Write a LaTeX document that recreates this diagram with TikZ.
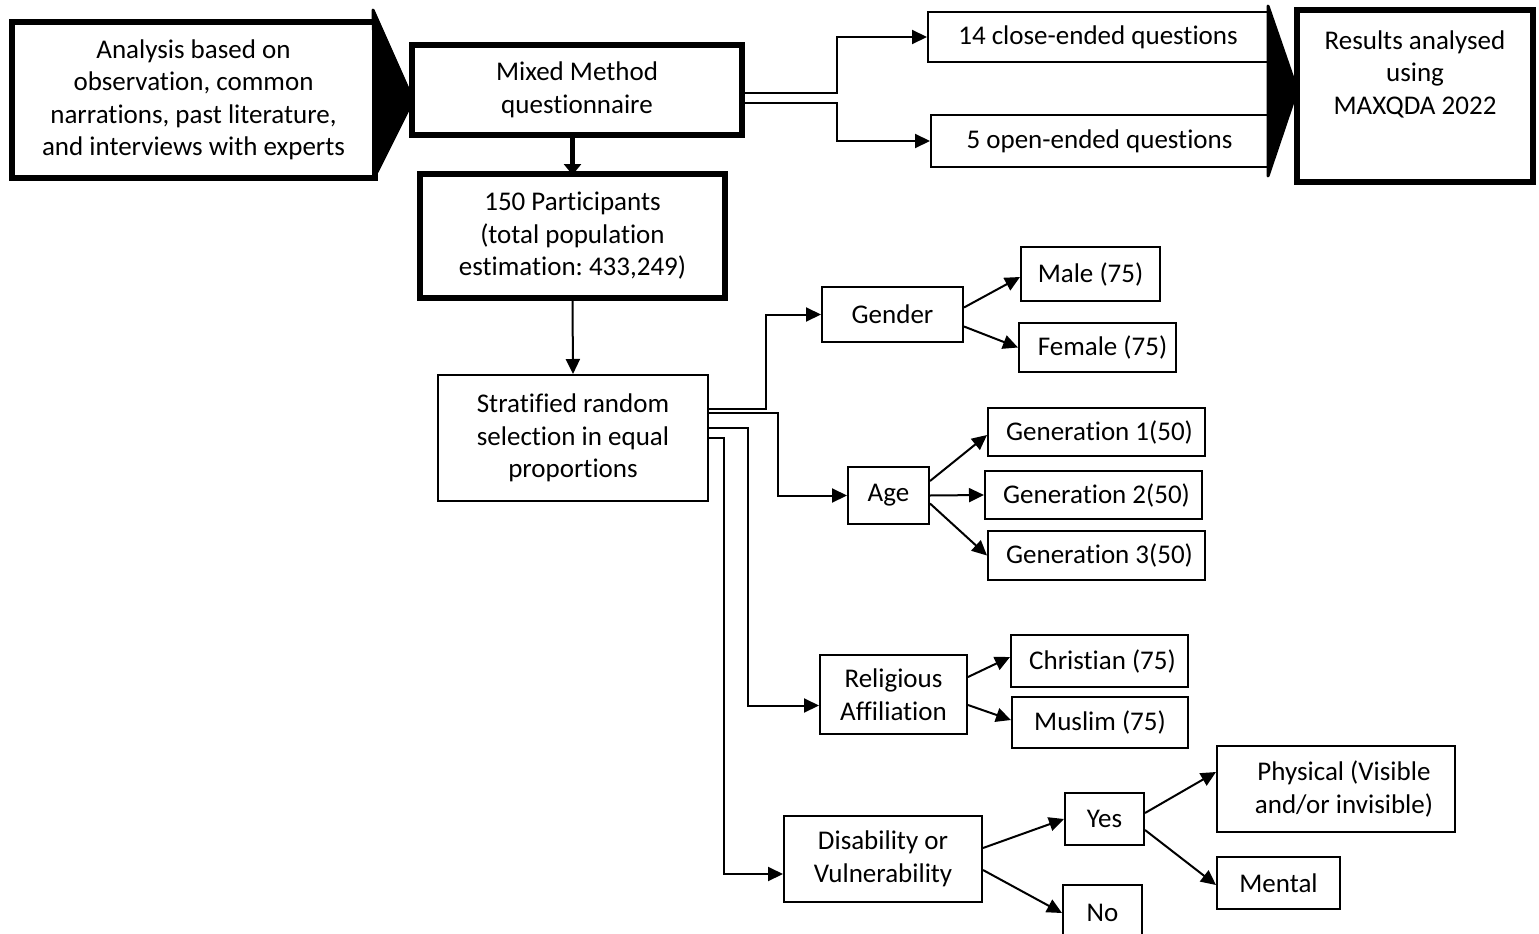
\documentclass[tikz,border=0pt]{standalone}
\usepackage{fontspec}
\setmainfont{Carlito}[Ligatures={CommonOff,ContextualOff}]
\usetikzlibrary{arrows.meta,calc}
\newcommand\myfs{\fontsize{27}{32.5}\selectfont\frenchspacing}
\tikzset{
  bx/.style={draw, line width=2pt, inner sep=0pt, align=center, font=\myfs},
  tbx/.style={bx, line width=6pt},
  txt/.style={inner sep=0pt, align=center, font=\myfs},
  arr/.style={line width=2pt, -{Triangle[length=15pt,width=14pt]}},
  bigarr/.style={line width=4.5pt, -{Triangle[length=11pt,width=17pt]}},
  bigtri/.style={draw, fill=black, line width=3pt, line join=round},
}
\begin{document}
\begin{tikzpicture}[x=1pt,y=-1pt]
\fill[white] (0,0) rectangle (1539,934);
\useasboundingbox (0,0) rectangle (1539,934);

% top row
\node[tbx, minimum width=363pt, minimum height=156pt] (ana) at (193.5,100)
  {Analysis based on\\observation, common\\narrations, past literature,\\and interviews with experts};
\draw[bigtri] (373,10) -- (413,100) -- (377,172) -- cycle;
\node[tbx, minimum width=330pt, minimum height=90pt] (mix) at (577,90)
  {Mixed Method\\questionnaire};
\node[bx, minimum width=340pt, minimum height=50pt] (close) at (1098,37)
  {14 close-ended questions};
\node[bx, minimum width=337pt, minimum height=52pt] (open) at (1099.5,141)
  {5 open-ended questions};
\draw[bigtri] (1268,6) -- (1297,90) -- (1268,176) -- cycle;
\node[tbx, minimum width=236pt, minimum height=172pt] (res) at (1415,96) {};
\node[txt] (restxt) at (1415,74) {Results analysed\\using\\MAXQDA 2022};

% participants
\node[tbx, minimum width=305pt, minimum height=124pt] (part) at (572.5,236)
  {150 Participants\\(total population\\estimation: 433,249)};
\node[bx, minimum width=270pt, minimum height=126pt] (strat) at (573,438)
  {Stratified random\\selection in equal\\proportions};

% categories
\node[bx, minimum width=141pt, minimum height=55pt] (gender) at (892.5,314.5) {Gender};
\node[bx, minimum width=139pt, minimum height=54pt] (male) at (1090.5,274) {Male (75)};
\node[bx, minimum width=157pt, minimum height=49pt] (female) at (1097.5,347.5) {\hspace*{10pt}Female (75)};

\node[bx, minimum width=81pt, minimum height=57pt] (age) at (888.5,495.5) {Age};
\node[bx, minimum width=217pt, minimum height=48pt] (gen1) at (1096.5,432) {\hspace*{6pt}Generation 1(50)};
\node[bx, minimum width=217pt, minimum height=48pt] (gen2) at (1093.5,495) {\hspace*{6pt}Generation 2(50)};
\node[bx, minimum width=217pt, minimum height=49pt] (gen3) at (1096.5,555.5) {\hspace*{6pt}Generation 3(50)};

\node[bx, minimum width=147pt, minimum height=79pt] (relig) at (893.5,694.5) {Religious\\Affiliation};
\node[bx, minimum width=177pt, minimum height=52pt] (chr) at (1099.5,661) {\hspace*{6pt}Christian (75)};
\node[bx, minimum width=176pt, minimum height=51pt] (mus) at (1100,722.5) {Muslim (75)};

\node[bx, minimum width=198pt, minimum height=86pt] (disab) at (883,859) {Disability or\\Vulnerability};
\node[bx, minimum width=79pt, minimum height=52pt] (yes) at (1104.5,819) {Yes};
\node[bx, minimum width=79pt, minimum height=56pt] (no) at (1102.5,913) {No};
\node[bx, minimum width=238pt, minimum height=86pt] (phys) at (1336,789) {\hspace*{16pt}Physical (Visible\\\hspace*{16pt}and/or invisible)};
\node[bx, minimum width=123pt, minimum height=52pt] (mental) at (1278.5,883) {Mental};

% connectors top
\draw[arr] ($(mix.east)+(0,3)$) -- ++(92,0) |- (close.west);
\draw[arr] ($(mix.east)+(0,13)$) -- ++(92,0) |- (open.west);
\draw[bigarr] (mix.south -| part.north) -- ($(part.north)+(0,4)$);
\draw[arr] (part.south) -- (strat.north);

% from stratified
\draw[arr] ($(strat.east)+(0,-29)$) -- ++(57,0) |- (gender.west);
\draw[arr] ($(strat.east)+(0,-25)$) -- ++(69,0) |- (age.west);
\draw[arr] ($(strat.east)+(0,-10)$) -- ++(39,0) |- ($(relig.west)+(0,11)$);
\draw[arr] (strat.east) -- ++(15,0) |- ($(disab.west)+(0,15)$);

% children
\draw[arr] ($(gender.east)+(0,-7)$) -- ($(male.west)+(0,3)$);
\draw[arr] ($(gender.east)+(0,12)$) -- (female.west);
\draw[arr] ($(age.east)+(0,-14.5)$) -- ($(gen1.west)+(0,3)$);
\draw[arr] (age.east) -- (gen2.west);
\draw[arr] ($(age.east)+(0,8)$) -- (gen3.west);
\draw[arr] ($(relig.east)+(0,-17.5)$) -- ($(chr.west)+(0,-4)$);
\draw[arr] ($(relig.east)+(0,10.5)$) -- ($(mus.west)+(0,-2.5)$);
\draw[arr] ($(disab.east)+(0,-11)$) -- (yes.west);
\draw[arr] ($(disab.east)+(0,11)$) -- (no.west);
\draw[arr] ($(yes.east)+(0,-6)$) -- ($(phys.west)+(0,-17)$);
\draw[arr] ($(yes.east)+(0,11)$) -- ($(mental.west)+(0,2)$);
\end{tikzpicture}
\end{document}
